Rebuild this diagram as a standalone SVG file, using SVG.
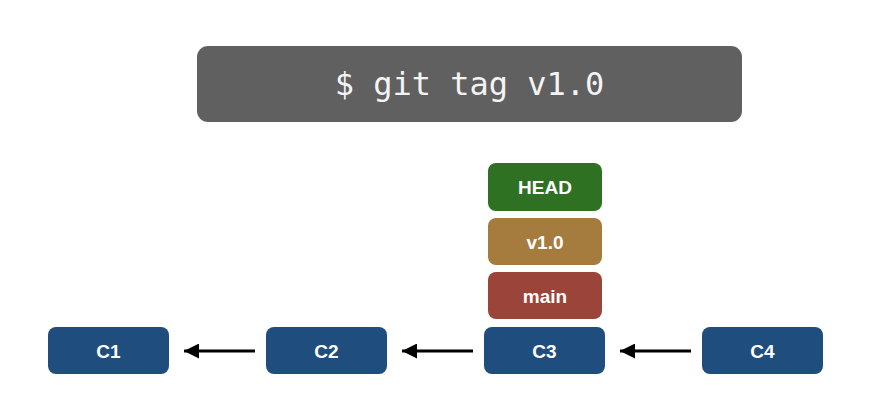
<svg xmlns="http://www.w3.org/2000/svg" width="880" height="415" viewBox="0 0 880 415">
<style>
.lbl{font-family:"Liberation Sans",Arial,sans-serif;font-weight:bold;font-size:19px;fill:#ffffff;text-anchor:middle;dominant-baseline:central}
.cmdtxt{font-family:"DejaVu Sans Mono","Liberation Mono",monospace;font-size:32px;fill:#f4f4f4;text-anchor:middle;dominant-baseline:central}
.commit{fill:#1f4d7d}
.conn{stroke:#000000;stroke-width:3;fill:none}
</style>
<defs>
<marker id="ah" markerWidth="6" markerHeight="5" refX="5" refY="2.5" orient="auto" markerUnits="strokeWidth">
<path d="M0,0 L5,2.5 L0,5 Z" fill="#000000"/>
</marker>
</defs>
<rect width="880" height="415" fill="#ffffff"/>
<g id="command">
<rect x="197" y="46" width="545" height="76" rx="11" fill="#606060"/>
<text class="cmdtxt" x="469.5" y="84">$ git tag v1.0</text>
</g>
<g id="connectors">
<line class="conn" x1="255" y1="351" x2="184" y2="351" marker-end="url(#ah)"/>
<line class="conn" x1="473" y1="351" x2="402" y2="351" marker-end="url(#ah)"/>
<line class="conn" x1="691" y1="351" x2="620" y2="351" marker-end="url(#ah)"/>
</g>
<g id="C1">
<rect class="commit" x="48" y="327" width="121" height="47" rx="8"/>
<text class="lbl" x="108.5" y="351">C1</text>
</g>
<g id="C2">
<rect class="commit" x="266" y="327" width="121" height="47" rx="8"/>
<text class="lbl" x="326.5" y="351">C2</text>
</g>
<g id="C3">
<rect class="commit" x="484" y="327" width="121" height="47" rx="8"/>
<text class="lbl" x="544.5" y="351">C3</text>
</g>
<g id="C4">
<rect class="commit" x="702" y="327" width="121" height="47" rx="8"/>
<text class="lbl" x="762.5" y="351">C4</text>
</g>
<g id="main">
<rect x="488" y="272" width="114" height="47" rx="8" fill="#9b4439"/>
<text class="lbl" x="545" y="296">main</text>
</g>
<g id="v1.0">
<rect x="488" y="218" width="114" height="47" rx="8" fill="#a67b3e"/>
<text class="lbl" x="545" y="242">v1.0</text>
</g>
<g id="HEAD">
<rect x="488" y="163" width="114" height="48" rx="8" fill="#2f7123"/>
<text class="lbl" x="545" y="187">HEAD</text>
</g>
</svg>
